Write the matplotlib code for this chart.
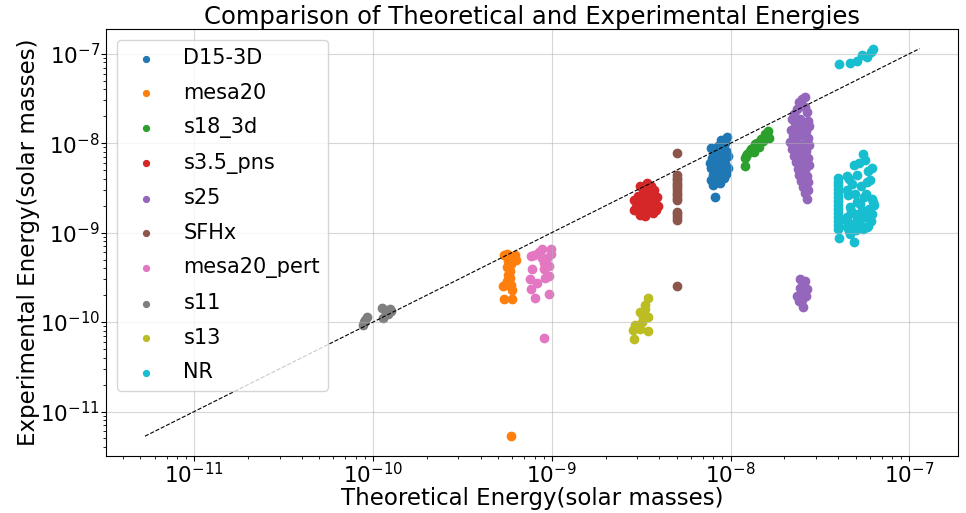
import numpy as np
import matplotlib
matplotlib.use('Agg')
import matplotlib.pyplot as plt

# Theoretical vs experimental energies (solar masses), per simulation model
labels = ['D15-3D', 'mesa20', 's18_3d', 's3.5_pns', 's25', 'SFHx',
          'mesa20_pert', 's11', 's13', 'NR']
decade_ticks = [1e-11, 1e-10, 1e-9, 1e-8, 1e-7]

d15_x = [8.8e-9, 9.26e-9, 8.47e-9, 7.74e-9, 8.04e-9, 8.69e-9, 9.38e-9, 9.62e-9, 7.84e-9, 8.36e-9,
         9.03e-9, 7.64e-9, 8.15e-9, 8.69e-9, 9.26e-9, 9.62e-9, 7.74e-9, 8.26e-9, 8.92e-9, 9.38e-9,
         7.94e-9, 8.47e-9, 9.15e-9, 7.74e-9, 8.26e-9, 8.69e-9, 7.94e-9, 8.15e-9, 9.5e-9]
d15_y = [1.08e-8, 1.0e-8, 9.27e-9, 8.81e-9, 7.77e-9, 8.38e-9, 8.17e-9, 7.2e-9, 6.84e-9, 7.2e-9,
         6.84e-9, 6.03e-9, 6.34e-9, 5.73e-9, 6.03e-9, 5.31e-9, 5.31e-9, 5.05e-9, 4.8e-9, 4.56e-9,
         4.45e-9, 4.23e-9, 4.12e-9, 3.92e-9, 3.72e-9, 3.54e-9, 3.37e-9, 2.49e-9, 1.16e-8]

mesa20_x = [5.4e-10, 5.6e-10, 5.8e-10, 6.0e-10, 6.2e-10, 6.3e-10, 5.7e-10, 5.9e-10, 5.6e-10, 5.8e-10,
            5.7e-10, 5.8e-10, 5.6e-10, 5.5e-10, 5.3e-10, 5.9e-10, 6.0e-10, 5.4e-10, 6.0e-10, 5.9e-10]
mesa20_y = [5.6e-10, 5.7e-10, 5.5e-10, 5.3e-10, 5.6e-10, 5.0e-10, 4.8e-10, 4.4e-10, 4.1e-10, 3.7e-10,
            3.4e-10, 3.1e-10, 2.9e-10, 2.6e-10, 2.5e-10, 2.6e-10, 2.3e-10, 1.8e-10, 1.8e-10, 5.3e-12]

s18_x = [1.2e-8, 1.2e-8, 1.24e-8, 1.28e-8, 1.33e-8, 1.37e-8, 1.41e-8, 1.48e-8, 1.55e-8, 1.6e-8,
         1.64e-8, 1.52e-8, 1.36e-8, 1.45e-8, 1.57e-8, 1.3e-8, 1.22e-8, 1.42e-8, 1.62e-8]
s18_y = [5.6e-9, 6.8e-9, 7.6e-9, 8.2e-9, 8.8e-9, 9.8e-9, 1.0e-8, 1.1e-8, 1.25e-8, 1.3e-8,
         1.15e-8, 1.05e-8, 8.0e-9, 9.0e-9, 1.2e-8, 8.6e-9, 7.2e-9, 9.4e-9, 1.35e-8]

s35_x = [3.12e-9, 3.41e-9, 3.59e-9, 3.24e-9, 3.73e-9, 2.89e-9, 3.04e-9, 3.24e-9, 3.46e-9, 3.69e-9,
         3.88e-9, 3.08e-9, 3.29e-9, 3.55e-9, 3.78e-9, 3.93e-9, 2.96e-9, 3.16e-9, 3.37e-9, 3.59e-9,
         3.83e-9, 3.04e-9, 3.24e-9, 3.46e-9, 3.69e-9, 3.12e-9, 3.33e-9, 2.89e-9, 3.5e-9, 3.2e-9]
s35_y = [3.36e-9, 3.54e-9, 3.28e-9, 3.12e-9, 2.97e-9, 2.31e-9, 2.55e-9, 2.75e-9, 2.68e-9, 2.62e-9,
         2.49e-9, 2.19e-9, 2.31e-9, 2.25e-9, 2.14e-9, 1.98e-9, 1.93e-9, 1.98e-9, 1.93e-9, 1.88e-9,
         1.79e-9, 1.75e-9, 1.7e-9, 1.75e-9, 1.66e-9, 1.58e-9, 1.54e-9, 1.79e-9, 2.09e-9, 2.49e-9]

s25_x = [2.51e-8, 2.42e-8, 2.61e-8, 2.36e-8, 2.61e-8, 2.27e-8, 2.68e-8, 2.21e-8, 2.45e-8, 2.71e-8,
         2.3e-8, 2.54e-8, 2.74e-8, 2.18e-8, 2.39e-8, 2.64e-8, 2.24e-8, 2.48e-8, 2.71e-8, 2.15e-8,
         2.36e-8, 2.58e-8, 2.74e-8, 2.21e-8, 2.42e-8, 2.64e-8, 2.27e-8, 2.51e-8, 2.71e-8, 2.33e-8,
         2.54e-8, 2.74e-8, 2.39e-8, 2.61e-8, 2.42e-8, 2.68e-8, 2.48e-8, 2.71e-8, 2.54e-8, 2.71e-8,
         2.61e-8, 2.68e-8,
         2.45e-8, 2.61e-8, 2.54e-8, 2.45e-8, 2.68e-8, 2.51e-8, 2.36e-8, 2.45e-8, 2.64e-8, 2.42e-8,
         2.51e-8, 2.54e-8]
s25_y = [3.12e-8, 2.89e-8, 3.28e-8, 2.42e-8, 2.55e-8, 2.14e-8, 2.25e-8, 1.88e-8, 1.88e-8, 1.79e-8,
         1.66e-8, 1.58e-8, 1.54e-8, 1.39e-8, 1.42e-8, 1.35e-8, 1.19e-8, 1.22e-8, 1.13e-8, 1.03e-8,
         1.0e-8, 9.75e-9, 9.5e-9, 8.59e-9, 8.38e-9, 8.17e-9, 7.2e-9, 7.2e-9, 6.84e-9, 6.18e-9,
         6.03e-9, 5.73e-9, 5.18e-9, 5.05e-9, 4.45e-9, 4.34e-9, 3.73e-9, 3.64e-9, 3.2e-9, 2.97e-9,
         2.75e-9, 2.37e-9,
         3.05e-10, 2.89e-10, 2.55e-10, 2.43e-10, 2.37e-10, 2.14e-10, 1.98e-10, 1.88e-10, 1.98e-10, 1.7e-10,
         1.75e-10, 1.46e-10]

sfhx_x = [5.0e-9] * 17
sfhx_y = [7.8e-9, 4.4e-9, 4.1e-9, 3.85e-9, 3.6e-9, 3.4e-9, 3.2e-9, 3.0e-9, 2.8e-9, 2.6e-9,
          2.45e-9, 2.3e-9, 1.72e-9, 1.6e-9, 1.5e-9, 1.4e-9, 2.5e-10]

pert_x = [7.64e-10, 7.9e-10, 8.8e-10, 9.87e-10, 9.87e-10, 8.8e-10, 9.0e-10, 7.7e-10, 9.0e-10, 9.6e-10,
          7.55e-10, 8.25e-10, 9.1e-10, 7.65e-10, 8.1e-10, 9.6e-10, 9.0e-10, 9.4e-10, 9.6e-10, 8.5e-10]
pert_y = [5.44e-10, 5.6e-10, 6.5e-10, 6.5e-10, 5.7e-10, 5.2e-10, 4.55e-10, 3.9e-10, 3.9e-10, 3.3e-10,
          3.05e-10, 2.75e-10, 3.1e-10, 2.37e-10, 1.88e-10, 2.08e-10, 6.7e-11, 5.2e-10, 4.2e-10, 6.0e-10]

s11_x = [8.8e-11, 9.0e-11, 9.2e-11, 8.9e-11, 1.12e-10, 1.16e-10, 1.20e-10, 1.24e-10, 1.14e-10, 1.21e-10, 1.26e-10]
s11_y = [9.2e-11, 1.05e-10, 1.15e-10, 1.0e-10, 1.42e-10, 1.38e-10, 1.30e-10, 1.40e-10, 1.12e-10, 1.22e-10, 1.33e-10]

s13_x = [3.46e-9, 3.33e-9, 3.13e-9, 3.24e-9, 3.46e-9, 2.92e-9, 3.13e-9, 2.86e-9, 3.46e-9, 2.9e-9, 3.2e-9, 3.3e-9]
s13_y = [1.84e-10, 1.54e-10, 1.29e-10, 1.13e-10, 1.13e-10, 9.3e-11, 8.4e-11, 8.2e-11, 8.0e-11, 6.5e-11, 1.0e-10, 1.4e-10]

nr_x = [4.03e-8, 4.64e-8, 5.08e-8, 5.41e-8, 5.77e-8, 6.22e-8, 6.07e-8,
        3.98e-8, 3.98e-8, 3.98e-8, 3.98e-8, 3.98e-8, 3.98e-8, 3.98e-8, 3.98e-8, 3.98e-8, 3.98e-8,
        3.98e-8, 3.98e-8, 3.98e-8, 3.98e-8,
        5.48e-8, 4.88e-8, 5.62e-8, 6.16e-8, 4.47e-8, 5.08e-8, 5.77e-8, 4.76e-8, 4.47e-8, 4.94e-8,
        5.55e-8, 6.16e-8, 5.27e-8, 4.64e-8, 5.92e-8, 4.94e-8, 4.47e-8, 5.62e-8, 6.16e-8, 4.76e-8,
        5.27e-8, 5.77e-8, 4.47e-8, 4.64e-8, 4.88e-8, 4.03e-8, 5.08e-8, 6.31e-8,
        5.2e-8, 5.9e-8, 4.6e-8, 5.35e-8, 6.0e-8, 4.55e-8, 5.1e-8, 5.7e-8, 4.7e-8, 5.45e-8,
        6.1e-8, 4.5e-8, 5.0e-8, 5.85e-8, 5.3e-8, 4.6e-8, 5.5e-8, 6.25e-8]
nr_y = [7.76e-8, 7.96e-8, 8.37e-8, 9.75e-8, 9.27e-8, 1.14e-7, 1.05e-7,
        4.12e-9, 3.72e-9, 3.37e-9, 3.05e-9, 2.75e-9, 2.49e-9, 2.25e-9, 2.03e-9, 1.84e-9, 1.66e-9,
        1.5e-9, 1.36e-9, 1.22e-9, 1.11e-9,
        7.57e-9, 5.73e-9, 6.5e-9, 5.31e-9, 4.34e-9, 4.45e-9, 3.64e-9, 3.46e-9, 2.97e-9, 2.68e-9,
        2.49e-9, 2.37e-9, 2.09e-9, 1.93e-9, 1.84e-9, 1.62e-9, 1.5e-9, 1.5e-9, 1.62e-9, 1.26e-9,
        1.26e-9, 1.16e-9, 1.16e-9, 9.77e-10, 7.77e-10, 8.8e-10, 1.4e-9, 2.03e-9,
        6.0e-9, 4.9e-9, 4.0e-9, 3.3e-9, 3.9e-9, 2.6e-9, 2.2e-9, 2.7e-9, 1.75e-9, 1.8e-9,
        1.35e-9, 1.35e-9, 1.08e-9, 1.2e-9, 1.45e-9, 1.05e-9, 1.1e-9, 2.2e-9]

xs = [d15_x, mesa20_x, s18_x, s35_x, s25_x, sfhx_x, pert_x, s11_x, s13_x, nr_x]
ys = [d15_y, mesa20_y, s18_y, s35_y, s25_y, sfhx_y, pert_y, s11_y, s13_y, nr_y]

fig = plt.figure(figsize=(9.66, 5.13), dpi=100)
plt.subplots_adjust(left=0.11, right=0.992, top=0.943, bottom=0.112)

for lab, x, y in zip(labels, xs, ys):
    plt.scatter(x, y, label=lab)

# y = x reference line spanning all values
all_vals = np.concatenate([np.concatenate(xs), np.concatenate(ys)])
lo, hi = all_vals.min(), all_vals.max()
plt.plot([lo, hi], [lo, hi], 'k--', linewidth=0.8)

plt.xscale('log')
plt.yscale('log')
# only the decades inside the view get labels
plt.xticks(decade_ticks)
plt.yticks(decade_ticks)
plt.xlabel('Theoretical Energy(solar masses)', fontsize=16.5, labelpad=0)
plt.ylabel('Experimental Energy(solar masses)', fontsize=16.5, labelpad=0)
plt.title('Comparison of Theoretical and Experimental Energies', fontsize=17.5, pad=4)
plt.tick_params(axis='both', which='major', labelsize=15.5, pad=1)
plt.grid(True, alpha=0.5)
plt.legend(loc='upper left', fontsize=15, labelspacing=0.7, markerscale=0.7)

plt.savefig('out.png', dpi=100)
